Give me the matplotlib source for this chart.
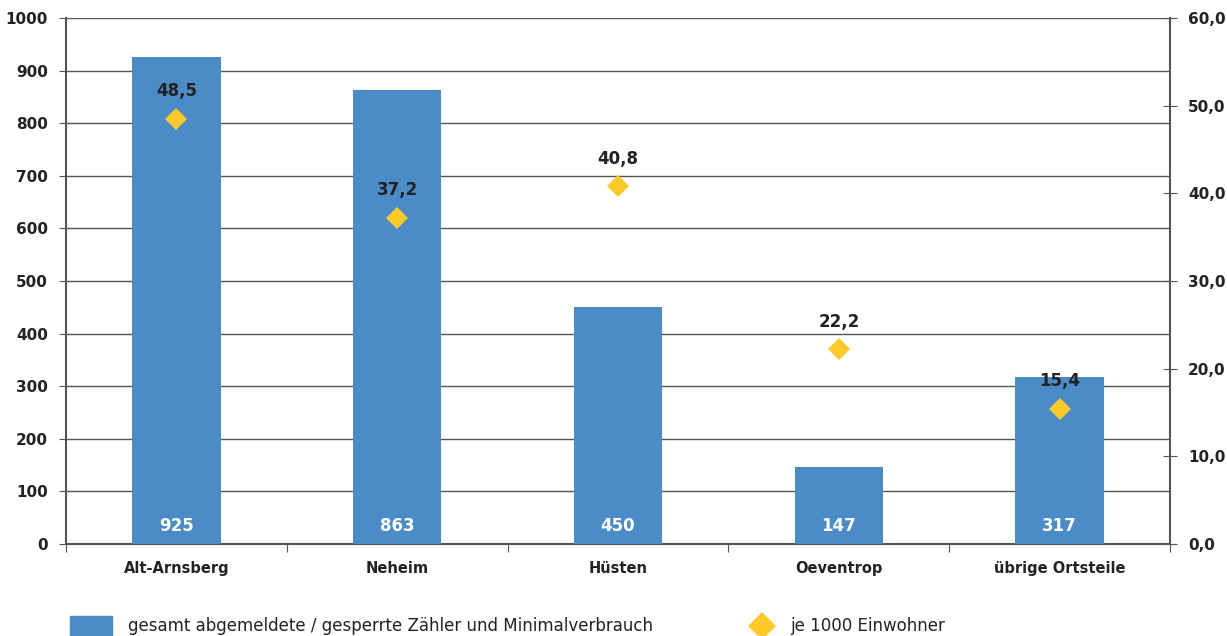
import numpy as np
import matplotlib.pyplot as plt
from matplotlib.patches import Rectangle
from matplotlib.lines import Line2D
from matplotlib.ticker import FuncFormatter

# Stadtteile
orte = ["Alt-Arnsberg", "Neheim", "Hüsten", "Oeventrop", "übrige Ortsteile"]
zaehler = [925, 863, 450, 147, 317]          # gesamt abgemeldete / gesperrte Zähler
je_1000 = [48.5, 37.2, 40.8, 22.2, 15.4]     # je 1000 Einwohner

blau = "#4a8bc8"
gelb = "#ffc928"
dunkel = "#222222"

fig = plt.figure(figsize=(12.27, 6.36), dpi=100)
ax = fig.add_axes([66/1227, 1-544/636, (1170-66)/1227, (544-18)/636])

x = np.arange(len(orte))
ax.bar(x, zaehler, width=0.40, color=blau, zorder=3)
ax.set_xlim(-0.5, len(orte) - 0.5)
ax.set_ylim(0, 1000)
ax.set_yticks(np.arange(0, 1001, 100))
ax.yaxis.grid(True, color="#555555", lw=1)
ax.set_axisbelow(True)

# Werte unten in den Balken
for xi, v in zip(x, zaehler):
    ax.annotate(str(v), (xi, 0), xytext=(0, 13), textcoords="offset points",
                ha="center", va="center", color="white", fontweight="bold",
                fontsize=12, zorder=5)

# Kategorien: Ticks an den Grenzen, Beschriftung in der Mitte
ax.set_xticks(np.arange(-0.5, len(orte), 1.0))
ax.set_xticklabels([])
ax.set_xticks(x, minor=True)
ax.set_xticklabels(orte, minor=True, fontsize=10.5, fontweight="bold", color=dunkel)
ax.tick_params(axis="x", which="major", direction="out", length=6, color="#555555")
ax.tick_params(axis="x", which="minor", length=0, pad=12)
ax.tick_params(axis="y", direction="out", length=5, pad=8, color="#555555",
               labelsize=11, labelcolor=dunkel)
for lab in ax.get_yticklabels():
    lab.set_fontweight("bold")

for s in ["top", "right"]:
    ax.spines[s].set_visible(False)
ax.spines["left"].set_color("#555555")
ax.spines["bottom"].set_color("#555555")
ax.spines["left"].set_linewidth(1.5)
ax.spines["bottom"].set_linewidth(1.5)

# zweite Achse: je 1000 Einwohner
ax2 = ax.twinx()
ax2.set_ylim(0, 60)
ax2.set_yticks(np.arange(0, 61, 10))
ax2.yaxis.set_major_formatter(FuncFormatter(lambda v, p: f"{v:.1f}".replace(".", ",")))
ax2.plot(x, je_1000, linestyle="none", marker="D", markersize=11,
         color=gelb, markeredgewidth=0, zorder=4)
for xi, v in zip(x, je_1000):
    ax2.annotate(f"{v:.1f}".replace(".", ","), (xi, v), xytext=(0, 20),
                 textcoords="offset points", ha="center", va="center",
                 fontsize=12, fontweight="bold", color=dunkel)
ax2.tick_params(axis="y", direction="inout", length=10, pad=8, color="#555555",
                labelsize=11, labelcolor=dunkel)
for lab in ax2.get_yticklabels():
    lab.set_fontweight("bold")
for s in ["top", "left", "bottom"]:
    ax2.spines[s].set_visible(False)
ax2.spines["right"].set_color("#555555")
ax2.spines["right"].set_linewidth(1.5)

# Legende unten
fig.patches.append(Rectangle((70/1227, 1-636/636), 42/1227, 20/636,
                             transform=fig.transFigure, color=blau))
fig.text(128/1227, 1-626/636, "gesamt abgemeldete / gesperrte Zähler und Minimalverbrauch",
         fontsize=12, color=dunkel, va="center", ha="left")
fig.add_artist(Line2D([762/1227], [1-626/636], marker="D", markersize=14,
                      color=gelb, markeredgewidth=0, transform=fig.transFigure))
fig.text(790/1227, 1-626/636, "je 1000 Einwohner",
         fontsize=12, color=dunkel, va="center", ha="left")

fig.savefig("out.png", dpi=100)
